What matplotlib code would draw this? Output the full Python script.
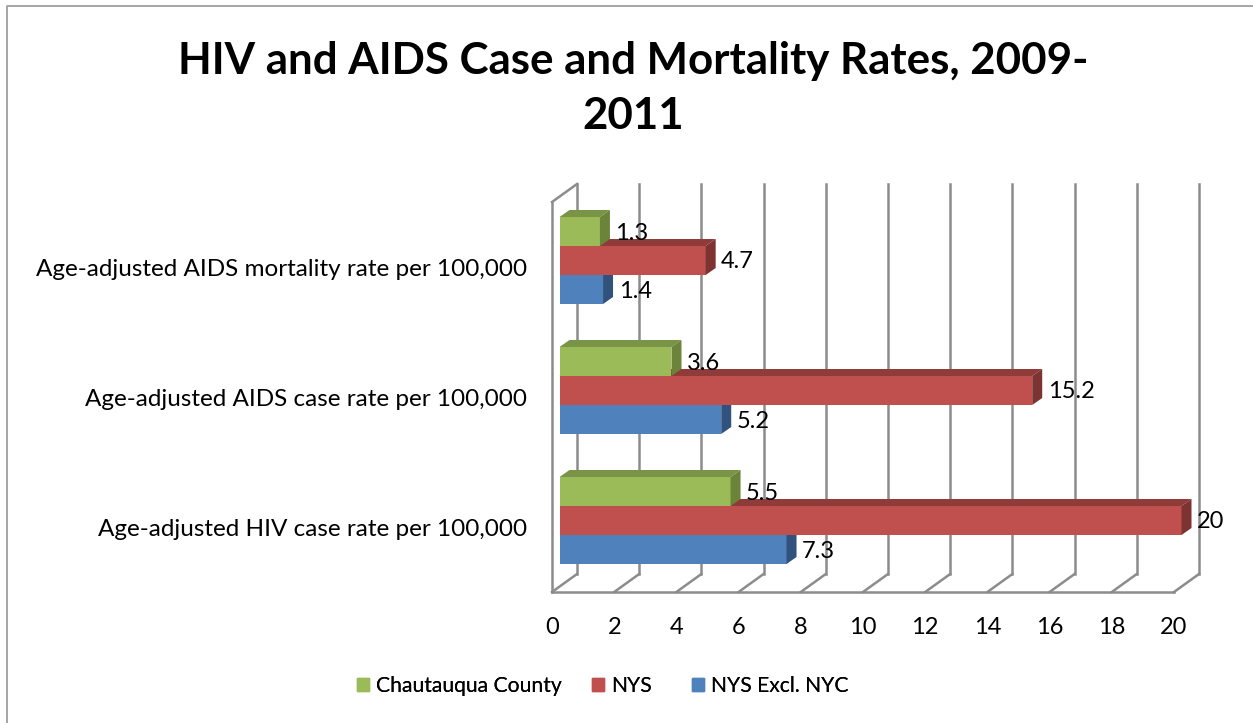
import matplotlib
matplotlib.use('Agg')
from matplotlib import pyplot as plt
from matplotlib.lines import Line2D
from matplotlib.patches import Patch, Polygon
from matplotlib.transforms import Affine2D

title = 'HIV and AIDS Case and Mortality Rates, 2009-\n2011'
categories = ['Age-adjusted HIV case rate per 100,000',
              'Age-adjusted AIDS case rate per 100,000',
              'Age-adjusted AIDS mortality rate per 100,000']
nys_excl_nyc = [7.3, 5.2, 1.4]
nys = [20, 15.2, 4.7]
chautauqua = [5.5, 3.6, 1.3]
xticks = list(range(0, 21, 2))

W, H = 1253, 723
plt.rcParams['font.family'] = ['Lato', 'DejaVu Sans']

fig = plt.figure(figsize=(W / 100, H / 100), dpi=100)
fig.patch.set_facecolor('white')

# outer chart frame: only the left and top edges show in the crop
frame_x = [7 / W, 7 / W, 1]
frame_y = [0, 1 - 5.5 / H, 1 - 5.5 / H]
fig.add_artist(Line2D(frame_x, frame_y, transform=fig.transFigure, color='#A6A6A6', lw=1.4))

# axes = front plane of the fake 3d box (px 552..1174, 202..592)
ax = fig.add_axes([552 / W, 1 - 592 / H, 622 / W, 390 / H])
ax.set_xlim(0, 20)
ax.set_ylim(0, 3)
for s in ax.spines.values():
    s.set_visible(False)
ax.patch.set_visible(False)


def shifted(dx, dy):
    # data coords, then a shift in pixels
    return ax.transData + Affine2D().translate(dx, dy)


# walls
WALL_DX, WALL_DY = 25, 18
grid_c = '#8C8C8C'
lw = 1.8
back = shifted(WALL_DX, WALL_DY)
for v in xticks:
    ax.add_line(Line2D([v, v], [0, 3], color=grid_c, lw=lw, transform=back, clip_on=False))
    p0 = ax.transData.transform((v, 0))
    ax.add_line(Line2D([p0[0], p0[0] + WALL_DX], [p0[1], p0[1] + WALL_DY], color=grid_c, lw=lw,
                       transform=None, clip_on=False))
ax.add_line(Line2D([0, 20], [0, 0], color=grid_c, lw=lw, clip_on=False))
ax.add_line(Line2D([0, 0], [0, 3], color=grid_c, lw=lw, clip_on=False))
p1 = ax.transData.transform((0, 3))
ax.add_line(Line2D([p1[0], p1[0] + WALL_DX], [p1[1], p1[1] + WALL_DY], color=grid_c, lw=lw,
                   transform=None, clip_on=False))

# bars, drawn back to front so the tops get covered properly
BAR_H = 29 / 130
OFF_X, OFF_Y = 7.5, 6.5
DEPTH_X, DEPTH_Y = 10, 7
series = [
    (nys_excl_nyc, -1, '#4F81BD', '#3A628F', '#31527D'),
    (nys, 0, '#C0504D', '#8F3B39', '#7D3331'),
    (chautauqua, 1, '#9BBB59', '#7A9447', '#6B8439'),
]
off = shifted(OFF_X, OFF_Y)
for vals, pos, front_c, top_c, side_c in series:
    for i, v in enumerate(vals):
        yc = i + 0.5 + pos * BAR_H
        y0 = yc - BAR_H / 2
        y1 = yc + BAR_H / 2
        ax.barh(yc, v, height=BAR_H, color=front_c, transform=off, clip_on=False, zorder=3)
        a = off.transform([(0, y0), (v, y0), (v, y1), (0, y1)])
        top = [a[3], a[2], a[2] + (DEPTH_X, DEPTH_Y), a[3] + (DEPTH_X, DEPTH_Y)]
        side = [a[1], a[2], a[2] + (DEPTH_X, DEPTH_Y), a[1] + (DEPTH_X, DEPTH_Y)]
        ax.add_patch(Polygon(top, closed=True, facecolor=top_c, edgecolor='none',
                             transform=None, clip_on=False, zorder=3))
        ax.add_patch(Polygon(side, closed=True, facecolor=side_c, edgecolor='none',
                             transform=None, clip_on=False, zorder=3))

# value labels
label_off = shifted(OFF_X + 15.5, OFF_Y - 1.5)
for vals, pos, *_ in series:
    for i, v in enumerate(vals):
        ax.text(v, i + 0.5 + pos * BAR_H, str(v), transform=label_off, ha='left', va='center',
                fontsize=17, color='black', zorder=5)

ax.set_xticks(xticks)
ax.set_yticks([0.5, 1.5, 2.5])
ax.set_yticklabels(categories)
ax.tick_params(axis='both', length=0, labelcolor='black')
ax.tick_params(axis='x', pad=18, labelsize=17)
ax.tick_params(axis='y', pad=18, labelsize=17.5)

fig.text(633 / W, 1 - 88.5 / H, title, ha='center', va='center', fontsize=31.6, fontweight='bold',
         color='black', linespacing=1.48)

# separate legends: the gaps between entries are not even in the original
legend_items = [('Chautauqua County', '#9BBB59', 357), ('NYS', '#C0504D', 592), ('NYS Excl. NYC', '#4F81BD', 692)]
for name, c, px in legend_items:
    leg = fig.legend(handles=[Patch(color=c, label=name)], loc='center left',
                     bbox_to_anchor=(px / W, 1 - 686 / H), frameon=False, fontsize=15.2,
                     handlelength=0.57, handleheight=0.57, handletextpad=0.33,
                     borderpad=0, borderaxespad=0)
    fig.add_artist(leg)

fig.savefig('out.png', dpi=100)
